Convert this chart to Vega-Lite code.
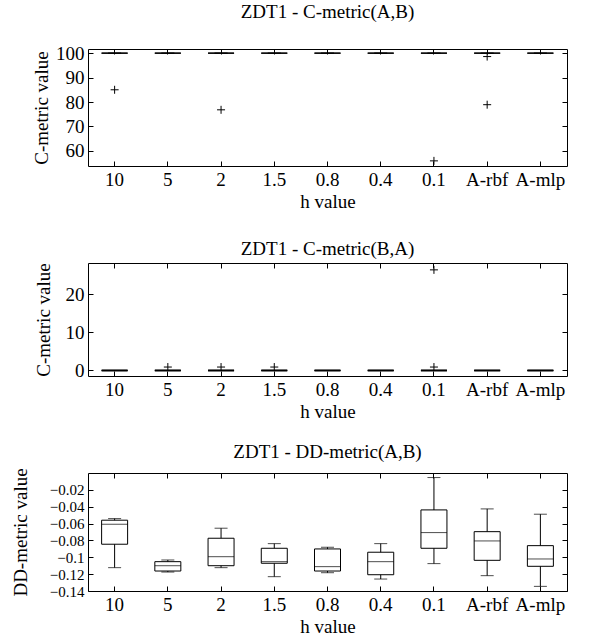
{
  "$schema": "https://vega.github.io/schema/vega-lite/v6.json",
  "bounds": "flush",
  "spacing": 97,
  "padding": {"left": 10, "top": 2, "right": 5, "bottom": 5},
  "config": {
    "font": "Liberation Serif",
    "view": {"stroke": "black", "strokeWidth": 1},
    "axis": {"labelFont": "Liberation Serif", "labelFontSize": 19, "labelColor": "black", "titleFont": "Liberation Serif", "titleFontSize": 19, "titleFontWeight": "normal", "titleColor": "black", "grid": false, "domain": false, "tickColor": "black", "tickSize": -5, "labelOverlap": false, "labelBound": false},
    "axisX": {"labelPadding": 9, "titlePadding": 3},
    "axisY": {"labelPadding": 9},
    "title": {"font": "Liberation Serif", "fontSize": 19, "fontWeight": "normal", "color": "black"}
  },
  "vconcat": [
    {
      "width": 479, "height": 117,
      "title": {"text": "ZDT1 - C-metric(A,B)", "offset": 22},
      "data": {"values": [
        {"h": "10", "lo": 100, "q1": 100, "med": 100, "q3": 100, "hi": 100},
        {"h": "5", "lo": 100, "q1": 100, "med": 100, "q3": 100, "hi": 100},
        {"h": "2", "lo": 100, "q1": 100, "med": 100, "q3": 100, "hi": 100},
        {"h": "1.5", "lo": 100, "q1": 100, "med": 100, "q3": 100, "hi": 100},
        {"h": "0.8", "lo": 100, "q1": 100, "med": 100, "q3": 100, "hi": 100},
        {"h": "0.4", "lo": 100, "q1": 100, "med": 100, "q3": 100, "hi": 100},
        {"h": "0.1", "lo": 100, "q1": 100, "med": 100, "q3": 100, "hi": 100},
        {"h": "A-rbf", "lo": 100, "q1": 100, "med": 100, "q3": 100, "hi": 100},
        {"h": "A-mlp", "lo": 100, "q1": 100, "med": 100, "q3": 100, "hi": 100}
      ]},
      "layer": [
        {"mark": {"type": "rule", "color": "black", "opacity": 0},
         "encoding": {
           "x": {"field": "h", "type": "nominal", "sort": ["10","5","2","1.5","0.8","0.4","0.1","A-rbf","A-mlp"], "scale": {"type": "band", "paddingInner": 0, "paddingOuter": 0}, "axis": {"orient": "top", "labels": false, "title": null}},
           "y": {"field": "lo", "type": "quantitative", "scale": {"domain": [53.8, 101.7], "nice": false, "zero": false}, "axis": {"orient": "right", "labels": false, "title": null, "values": [60,70,80,90,100]}}
         }},
        {"mark": {"type": "rule", "color": "black"},
         "encoding": {
           "x": {"field": "h", "type": "nominal", "sort": ["10","5","2","1.5","0.8","0.4","0.1","A-rbf","A-mlp"], "scale": {"type": "band", "paddingInner": 0, "paddingOuter": 0}, "axis": {"orient": "bottom", "title": "h value", "labelAngle": 0}},
           "y": {"field": "lo", "type": "quantitative", "axis": {"orient": "left", "title": "C-metric value", "values": [60,70,80,90,100], "titlePadding": 4}},
           "y2": {"field": "hi"}
         }},
        {"mark": {"type": "bar", "fill": "white", "stroke": "black", "strokeWidth": 1, "size": 26},
         "encoding": {"x": {"field": "h", "type": "nominal", "sort": ["10","5","2","1.5","0.8","0.4","0.1","A-rbf","A-mlp"], "axis": null}, "y": {"field": "q1", "type": "quantitative", "axis": null}, "y2": {"field": "q3"}}},
        {"mark": {"type": "tick", "color": "black", "size": 26, "thickness": 1},
         "encoding": {"x": {"field": "h", "type": "nominal", "sort": ["10","5","2","1.5","0.8","0.4","0.1","A-rbf","A-mlp"], "axis": null}, "y": {"field": "med", "type": "quantitative", "axis": null}}},
        {"mark": {"type": "tick", "color": "black", "size": 13, "thickness": 1},
         "encoding": {"x": {"field": "h", "type": "nominal", "sort": ["10","5","2","1.5","0.8","0.4","0.1","A-rbf","A-mlp"], "axis": null}, "y": {"field": "hi", "type": "quantitative", "axis": null}}},
        {"mark": {"type": "tick", "color": "black", "size": 13, "thickness": 1},
         "encoding": {"x": {"field": "h", "type": "nominal", "sort": ["10","5","2","1.5","0.8","0.4","0.1","A-rbf","A-mlp"], "axis": null}, "y": {"field": "lo", "type": "quantitative", "axis": null}}},
        {"data": {"values": [
          {"h": "10", "v": 85.0},
          {"h": "2", "v": 76.8},
          {"h": "0.1", "v": 55.9},
          {"h": "A-rbf", "v": 98.6},
          {"h": "A-rbf", "v": 78.9}
        ]},
         "mark": {"type": "point", "shape": "M-1,0L1,0M0,-1L0,1", "size": 64, "filled": false, "stroke": "black", "strokeWidth": 1, "opacity": 1},
         "encoding": {"x": {"field": "h", "type": "nominal", "sort": ["10","5","2","1.5","0.8","0.4","0.1","A-rbf","A-mlp"], "axis": null}, "y": {"field": "v", "type": "quantitative", "axis": null}}}
      ],
      "resolve": {"axis": {"x": "independent", "y": "independent"}}
    },
    {
      "width": 479, "height": 113,
      "title": {"text": "ZDT1 - C-metric(B,A)", "offset": 4},
      "data": {"values": [
        {"h": "10", "lo": 0, "q1": 0, "med": 0, "q3": 0, "hi": 0},
        {"h": "5", "lo": 0, "q1": 0, "med": 0, "q3": 0, "hi": 0},
        {"h": "2", "lo": 0, "q1": 0, "med": 0, "q3": 0, "hi": 0},
        {"h": "1.5", "lo": 0, "q1": 0, "med": 0, "q3": 0, "hi": 0},
        {"h": "0.8", "lo": 0, "q1": 0, "med": 0, "q3": 0, "hi": 0},
        {"h": "0.4", "lo": 0, "q1": 0, "med": 0, "q3": 0, "hi": 0},
        {"h": "0.1", "lo": 0, "q1": 0, "med": 0, "q3": 0, "hi": 0},
        {"h": "A-rbf", "lo": 0, "q1": 0, "med": 0, "q3": 0, "hi": 0},
        {"h": "A-mlp", "lo": 0, "q1": 0, "med": 0, "q3": 0, "hi": 0}
      ]},
      "layer": [
        {"mark": {"type": "rule", "color": "black", "opacity": 0},
         "encoding": {
           "x": {"field": "h", "type": "nominal", "sort": ["10","5","2","1.5","0.8","0.4","0.1","A-rbf","A-mlp"], "scale": {"type": "band", "paddingInner": 0, "paddingOuter": 0}, "axis": {"orient": "top", "labels": false, "title": null}},
           "y": {"field": "lo", "type": "quantitative", "scale": {"domain": [-1.45, 28.2], "nice": false, "zero": false}, "axis": {"orient": "right", "labels": false, "title": null, "values": [0,10,20]}}
         }},
        {"mark": {"type": "rule", "color": "black"},
         "encoding": {
           "x": {"field": "h", "type": "nominal", "sort": ["10","5","2","1.5","0.8","0.4","0.1","A-rbf","A-mlp"], "scale": {"type": "band", "paddingInner": 0, "paddingOuter": 0}, "axis": {"orient": "bottom", "title": "h value", "labelAngle": 0}},
           "y": {"field": "lo", "type": "quantitative", "axis": {"orient": "left", "title": "C-metric value", "values": [0,10,20], "titlePadding": 12}},
           "y2": {"field": "hi"}
         }},
        {"mark": {"type": "bar", "fill": "white", "stroke": "black", "strokeWidth": 1, "size": 26},
         "encoding": {"x": {"field": "h", "type": "nominal", "sort": ["10","5","2","1.5","0.8","0.4","0.1","A-rbf","A-mlp"], "axis": null}, "y": {"field": "q1", "type": "quantitative", "axis": null}, "y2": {"field": "q3"}}},
        {"mark": {"type": "tick", "color": "black", "size": 26, "thickness": 2.5},
         "encoding": {"x": {"field": "h", "type": "nominal", "sort": ["10","5","2","1.5","0.8","0.4","0.1","A-rbf","A-mlp"], "axis": null}, "y": {"field": "med", "type": "quantitative", "axis": null}}},
        {"mark": {"type": "tick", "color": "black", "size": 13, "thickness": 1},
         "encoding": {"x": {"field": "h", "type": "nominal", "sort": ["10","5","2","1.5","0.8","0.4","0.1","A-rbf","A-mlp"], "axis": null}, "y": {"field": "hi", "type": "quantitative", "axis": null}}},
        {"mark": {"type": "tick", "color": "black", "size": 13, "thickness": 1},
         "encoding": {"x": {"field": "h", "type": "nominal", "sort": ["10","5","2","1.5","0.8","0.4","0.1","A-rbf","A-mlp"], "axis": null}, "y": {"field": "lo", "type": "quantitative", "axis": null}}},
        {"data": {"values": [
          {"h": "5", "v": 0.9},
          {"h": "2", "v": 0.9},
          {"h": "1.5", "v": 0.9},
          {"h": "0.1", "v": 0.9},
          {"h": "0.1", "v": 26.4}
        ]},
         "mark": {"type": "point", "shape": "M-1,0L1,0M0,-1L0,1", "size": 64, "filled": false, "stroke": "black", "strokeWidth": 1, "opacity": 1},
         "encoding": {"x": {"field": "h", "type": "nominal", "sort": ["10","5","2","1.5","0.8","0.4","0.1","A-rbf","A-mlp"], "axis": null}, "y": {"field": "v", "type": "quantitative", "axis": null}}}
      ],
      "resolve": {"axis": {"x": "independent", "y": "independent"}}
    },
    {
      "width": 479, "height": 118,
      "title": {"text": "ZDT1 - DD-metric(A,B)", "offset": 6},
      "data": {"values": [
        {"h": "10", "lo": -0.1123, "q1": -0.0845, "med": -0.0608, "q3": -0.0560, "hi": -0.0541},
        {"h": "5", "lo": -0.1175, "q1": -0.1163, "med": -0.1100, "q3": -0.1052, "hi": -0.1032},
        {"h": "2", "lo": -0.1123, "q1": -0.1100, "med": -0.0993, "q3": -0.0774, "hi": -0.0655},
        {"h": "1.5", "lo": -0.1230, "q1": -0.1071, "med": -0.1052, "q3": -0.0893, "hi": -0.0838},
        {"h": "0.8", "lo": -0.1183, "q1": -0.1163, "med": -0.1111, "q3": -0.0901, "hi": -0.0881},
        {"h": "0.4", "lo": -0.1258, "q1": -0.1207, "med": -0.1052, "q3": -0.0940, "hi": -0.0838},
        {"h": "0.1", "lo": -0.1075, "q1": -0.0893, "med": -0.0707, "q3": -0.0438, "hi": -0.0054},
        {"h": "A-rbf", "lo": -0.1218, "q1": -0.1036, "med": -0.0806, "q3": -0.0696, "hi": -0.0426},
        {"h": "A-mlp", "lo": -0.1345, "q1": -0.1107, "med": -0.1020, "q3": -0.0862, "hi": -0.0489}
      ]},
      "layer": [
        {"mark": {"type": "rule", "color": "black", "opacity": 0},
         "encoding": {
           "x": {"field": "h", "type": "nominal", "sort": ["10","5","2","1.5","0.8","0.4","0.1","A-rbf","A-mlp"], "scale": {"type": "band", "paddingInner": 0, "paddingOuter": 0}, "axis": {"orient": "top", "labels": false, "title": null}},
           "y": {"field": "lo", "type": "quantitative", "scale": {"domain": [-0.14, 0.0], "nice": false, "zero": false}, "axis": {"orient": "right", "labels": false, "title": null, "values": [-0.14,-0.12,-0.1,-0.08,-0.06,-0.04,-0.02]}}
         }},
        {"mark": {"type": "rule", "color": "black"},
         "encoding": {
           "x": {"field": "h", "type": "nominal", "sort": ["10","5","2","1.5","0.8","0.4","0.1","A-rbf","A-mlp"], "scale": {"type": "band", "paddingInner": 0, "paddingOuter": 0}, "axis": {"orient": "bottom", "title": "h value", "labelAngle": 0}},
           "y": {"field": "lo", "type": "quantitative", "axis": {"orient": "left", "title": "DD-metric value", "values": [-0.14,-0.12,-0.1,-0.08,-0.06,-0.04,-0.02], "format": "~g", "titlePadding": 19, "labelFontSize": 15}},
           "y2": {"field": "hi"}
         }},
        {"mark": {"type": "bar", "fill": "white", "stroke": "black", "strokeWidth": 1, "size": 26},
         "encoding": {"x": {"field": "h", "type": "nominal", "sort": ["10","5","2","1.5","0.8","0.4","0.1","A-rbf","A-mlp"], "axis": null}, "y": {"field": "q1", "type": "quantitative", "axis": null}, "y2": {"field": "q3"}}},
        {"mark": {"type": "tick", "color": "black", "size": 26, "thickness": 1},
         "encoding": {"x": {"field": "h", "type": "nominal", "sort": ["10","5","2","1.5","0.8","0.4","0.1","A-rbf","A-mlp"], "axis": null}, "y": {"field": "med", "type": "quantitative", "axis": null}}},
        {"mark": {"type": "tick", "color": "black", "size": 13, "thickness": 1},
         "encoding": {"x": {"field": "h", "type": "nominal", "sort": ["10","5","2","1.5","0.8","0.4","0.1","A-rbf","A-mlp"], "axis": null}, "y": {"field": "hi", "type": "quantitative", "axis": null}}},
        {"mark": {"type": "tick", "color": "black", "size": 13, "thickness": 1},
         "encoding": {"x": {"field": "h", "type": "nominal", "sort": ["10","5","2","1.5","0.8","0.4","0.1","A-rbf","A-mlp"], "axis": null}, "y": {"field": "lo", "type": "quantitative", "axis": null}}}
      ],
      "resolve": {"axis": {"x": "independent", "y": "independent"}}
    }
  ]
}
